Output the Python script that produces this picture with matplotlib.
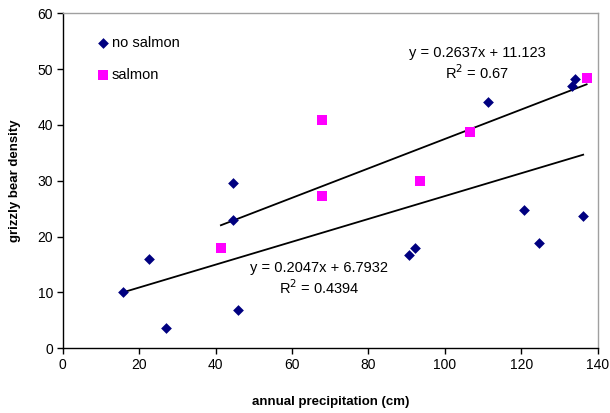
import matplotlib
matplotlib.use("Agg")
import matplotlib.pyplot as plt
import numpy as np

plt.rcParams['font.family'] = ['Liberation Sans', 'DejaVu Sans']

# no salmon
ns_x = [15.7, 22.6, 27.0, 44.5, 44.5, 45.9, 90.7, 92.1, 120.6, 124.7, 136.2, 111.3, 133.3, 134.0]
ns_y = [10.1, 16.0, 3.6, 29.6, 22.9, 6.9, 16.7, 18.0, 24.8, 18.9, 23.7, 44.2, 47.0, 48.2]
# salmon
s_x = [41.4, 67.9, 67.9, 93.6, 106.6, 137.1]
s_y = [18.0, 27.2, 40.9, 30.0, 38.7, 48.4]

ns_fit = [0.2047, 6.7932]
s_fit = [0.2637, 11.123]

xticks = [0, 20, 40, 60, 80, 100, 120, 140]
yticks = [0, 10, 20, 30, 40, 50, 60]

fig = plt.figure(figsize=(6.1, 4.13), dpi=100)
ax = fig.add_axes([62.7/610, (413-348.3)/413, 535/610, 335/413])

ax.scatter(ns_x, ns_y, marker='D', s=30, color='#000080', label='no salmon', zorder=3, linewidths=0)
ax.scatter(s_x, s_y, marker='s', s=45, color='#FF00FF', label='salmon', zorder=3, linewidths=0)

xa = np.array([min(ns_x), max(ns_x)])
ax.plot(xa, ns_fit[0]*xa + ns_fit[1], color='black', lw=1.3, zorder=2)
xb = np.array([min(s_x), max(s_x)])
ax.plot(xb, s_fit[0]*xb + s_fit[1], color='black', lw=1.3, zorder=2)

fs = 10.5
ax.text(108.4, 52.9, 'y = 0.2637x + 11.123', ha='center', va='center', fontsize=fs)
ax.text(108.4, 49.3, 'R$^2$ = 0.67', ha='center', va='center', fontsize=fs)
ax.text(67.1, 14.4, 'y = 0.2047x + 6.7932', ha='center', va='center', fontsize=fs)
ax.text(67.1, 10.8, 'R$^2$ = 0.4394', ha='center', va='center', fontsize=fs)

ax.set_xlim(0, 140)
ax.set_ylim(0, 60)
ax.set_xticks(xticks)
ax.set_yticks(yticks)
ax.tick_params(direction='out', length=4, width=1, labelsize=10, pad=3)

for side in ['top', 'right']:
    ax.spines[side].set_color('#a0a0a0')
    ax.spines[side].set_linewidth(1)
for side in ['left', 'bottom']:
    ax.spines[side].set_color('black')
    ax.spines[side].set_linewidth(1)

ax.set_xlabel('annual precipitation (cm)', fontsize=9.5, fontweight='bold', labelpad=17)
ax.set_ylabel('grizzly bear density', fontsize=9.5, fontweight='bold', labelpad=12)

leg = ax.legend(loc='upper left', bbox_to_anchor=(0.05, 0.95), frameon=False,
                fontsize=10.5, handletextpad=0.15, labelspacing=1.25, borderaxespad=0,
                handlelength=1.0, scatterpoints=1)

fig.savefig('out.png', dpi=100)
